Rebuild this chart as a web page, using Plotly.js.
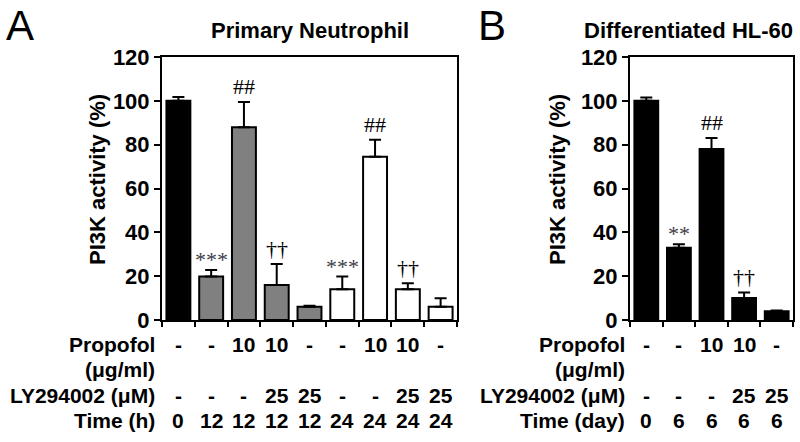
<!DOCTYPE html>
<html>
<head>
<meta charset="utf-8">
<script src="https://cdn.plot.ly/plotly-3.0.1.min.js"></script>
<style>html,body{margin:0;padding:0;background:#fff;}#chart{width:800px;height:442px;}</style>
</head>
<body>
<div id="chart"></div>
<script>
// ---- Data ----
const catsA = [0, 1, 2, 3, 4, 5, 6, 7, 8];
const valsA = [100, 19.8, 88, 16, 6, 14, 74.5, 14, 6];
const errA = [1.7, 3, 11.5, 9.5, 0.5, 5.8, 7.8, 2.8, 3.9];
const sigA = ['', '***', '##', '††', '', '***', '##', '††', ''];
const propofolA = ['-', '-', '10', '10', '-', '-', '10', '10', '-'];
const lyA = ['-', '-', '-', '25', '25', '-', '-', '25', '25'];
const timeA = ['0', '12', '12', '12', '12', '24', '24', '24', '24'];

const catsB = [0, 1, 2, 3, 4];
const valsB = [100, 33, 78, 10, 4];
const errB = [1.5, 1.6, 5, 2.6, 0.3];
const sigB = ['', '**', '##', '††', ''];
const propofolB = ['-', '-', '10', '10', '-'];
const lyB = ['-', '-', '-', '25', '25'];
const timeB = ['0', '6', '6', '6', '6'];

const rowLabelsA = ['Propofol', '(μg/ml)', 'LY294002 (μM)', 'Time (h)'];
const rowLabelsB = ['Propofol', '(μg/ml)', 'LY294002 (μM)', 'Time (day)'];

// ---- Styles ----
const fillA = ['#000000', '#808080', '#808080', '#808080', '#808080', '#ffffff', '#ffffff', '#ffffff', '#ffffff'];
const fillB = ['#000000', '#000000', '#000000', '#000000', '#000000'];
const SANS = 'Liberation Sans, Arial, sans-serif';
const SERIF = 'Liberation Serif, Times New Roman, serif';

function barTrace(x, y, err, fill, xa, ya) {
  return {
    type: 'bar', x: x, y: y, xaxis: xa, yaxis: ya, width: 0.73,
    marker: {color: fill, line: {color: '#000', width: 2}},
    error_y: {type: 'data', array: err, arrayminus: err.map(() => 0), symmetric: false,
              color: '#000', thickness: 2, width: 6},
    hoverinfo: 'none', showlegend: false
  };
}

const traces = [
  barTrace(catsA, valsA, errA, fillA, 'x', 'y'),
  barTrace(catsB, valsB, errB, fillB, 'x2', 'y2')
];

function xAxis(n, domain) {
  const tv = [];
  for (let i = 0; i <= n; i++) tv.push(i - 0.5);
  return {
    domain: domain, range: [-0.5, n - 0.5], showgrid: false, zeroline: false,
    showline: true, linecolor: '#000', linewidth: 2, mirror: true,
    tickmode: 'array', tickvals: tv, ticks: 'outside', ticklen: 5, tickwidth: 2, tickcolor: '#000',
    showticklabels: false, fixedrange: true
  };
}
function yAxis(anchor) {
  return {
    domain: [1 - 320 / 442, 1 - 57 / 442], range: [0, 120], anchor: anchor,
    tickmode: 'linear', tick0: 0, dtick: 20, showgrid: false, zeroline: false,
    showline: true, linecolor: '#000', linewidth: 2, mirror: true,
    ticks: 'outside', ticklen: 6, tickwidth: 2, tickcolor: '#000',
    tickfont: {family: SANS, size: 22, color: '#000', weight: 'bold'}, fixedrange: true
  };
}

const annotations = [];
function addSig(sig, vals, err, xref, yref) {
  sig.forEach((s, i) => {
    if (!s) return;
    const star = s.indexOf('*') >= 0;
    annotations.push({
      text: s, x: i, y: vals[i] + err[i], xref: xref, yref: yref,
      xanchor: 'center', yanchor: 'bottom', yshift: star ? -4 : 1, showarrow: false,
      font: {family: SERIF, size: 22, color: star ? '#3c3c48' : '#000'}
    });
  });
}
addSig(sigA, valsA, errA, 'x', 'y');
addSig(sigB, valsB, errB, 'x2', 'y2');

const rowY = [344, 369, 395, 420].map(p => 1 - p / 442);
function addTable(rows, labels, labelX, xref) {
  labels.forEach((lab, r) => {
    annotations.push({
      text: lab, x: labelX, y: rowY[r], xref: 'paper', yref: 'paper',
      xanchor: 'right', yanchor: 'middle', showarrow: false,
      font: {family: SANS, size: 21, color: '#000', weight: 'bold'}
    });
  });
  const rowIdx = [0, 2, 3];
  rows.forEach((arr, k) => {
    arr.forEach((v, i) => {
      annotations.push({
        text: v, x: i, y: rowY[rowIdx[k]], xref: xref, yref: 'paper',
        xanchor: 'center', yanchor: 'middle', showarrow: false,
        font: {family: SANS, size: 21, color: '#000', weight: 'bold'}
      });
    });
  });
}
addTable([propofolA, lyA, timeA], rowLabelsA, 157 / 800, 'x');
addTable([propofolB, lyB, timeB], rowLabelsB, 627 / 800, 'x2');

// titles, panel letters, axis titles
annotations.push(
  {text: 'Primary Neutrophil', x: 310 / 800, y: 1 - 31 / 442, xref: 'paper', yref: 'paper',
   xanchor: 'center', yanchor: 'middle', showarrow: false,
   font: {family: SANS, size: 22, color: '#000', weight: 'bold'}},
  {text: 'Differentiated HL-60', x: 688 / 800, y: 1 - 31 / 442, xref: 'paper', yref: 'paper',
   xanchor: 'center', yanchor: 'middle', showarrow: false,
   font: {family: SANS, size: 22, color: '#000', weight: 'bold'}},
  {text: 'A', x: 4 / 800, y: 1, xref: 'paper', yref: 'paper',
   xanchor: 'left', yanchor: 'top', showarrow: false,
   font: {family: SANS, size: 42, color: '#000'}},
  {text: 'B', x: 476 / 800, y: 1, xref: 'paper', yref: 'paper',
   xanchor: 'left', yanchor: 'top', showarrow: false,
   font: {family: SANS, size: 42, color: '#000'}},
  {text: 'PI3K activity (%)', x: 97 / 800, y: 1 - 180 / 442, xref: 'paper', yref: 'paper',
   xanchor: 'center', yanchor: 'middle', textangle: -90, showarrow: false,
   font: {family: SANS, size: 22, color: '#000', weight: 'bold'}},
  {text: 'PI3K activity (%)', x: 557 / 800, y: 1 - 180 / 442, xref: 'paper', yref: 'paper',
   xanchor: 'center', yanchor: 'middle', textangle: -90, showarrow: false,
   font: {family: SANS, size: 22, color: '#000', weight: 'bold'}}
);

const layout = {
  width: 800, height: 442, margin: {l: 0, r: 0, t: 0, b: 0},
  paper_bgcolor: '#fff', plot_bgcolor: '#fff', bargap: 0.27,
  xaxis: Object.assign(xAxis(9, [162 / 800, 457 / 800]), {anchor: 'y'}),
  yaxis: yAxis('x'),
  xaxis2: Object.assign(xAxis(5, [630 / 800, 793 / 800]), {anchor: 'y2'}),
  yaxis2: yAxis('x2'),
  annotations: annotations
};

Plotly.newPlot('chart', traces, layout, {displayModeBar: false, staticPlot: true});
</script>
</body>
</html>
